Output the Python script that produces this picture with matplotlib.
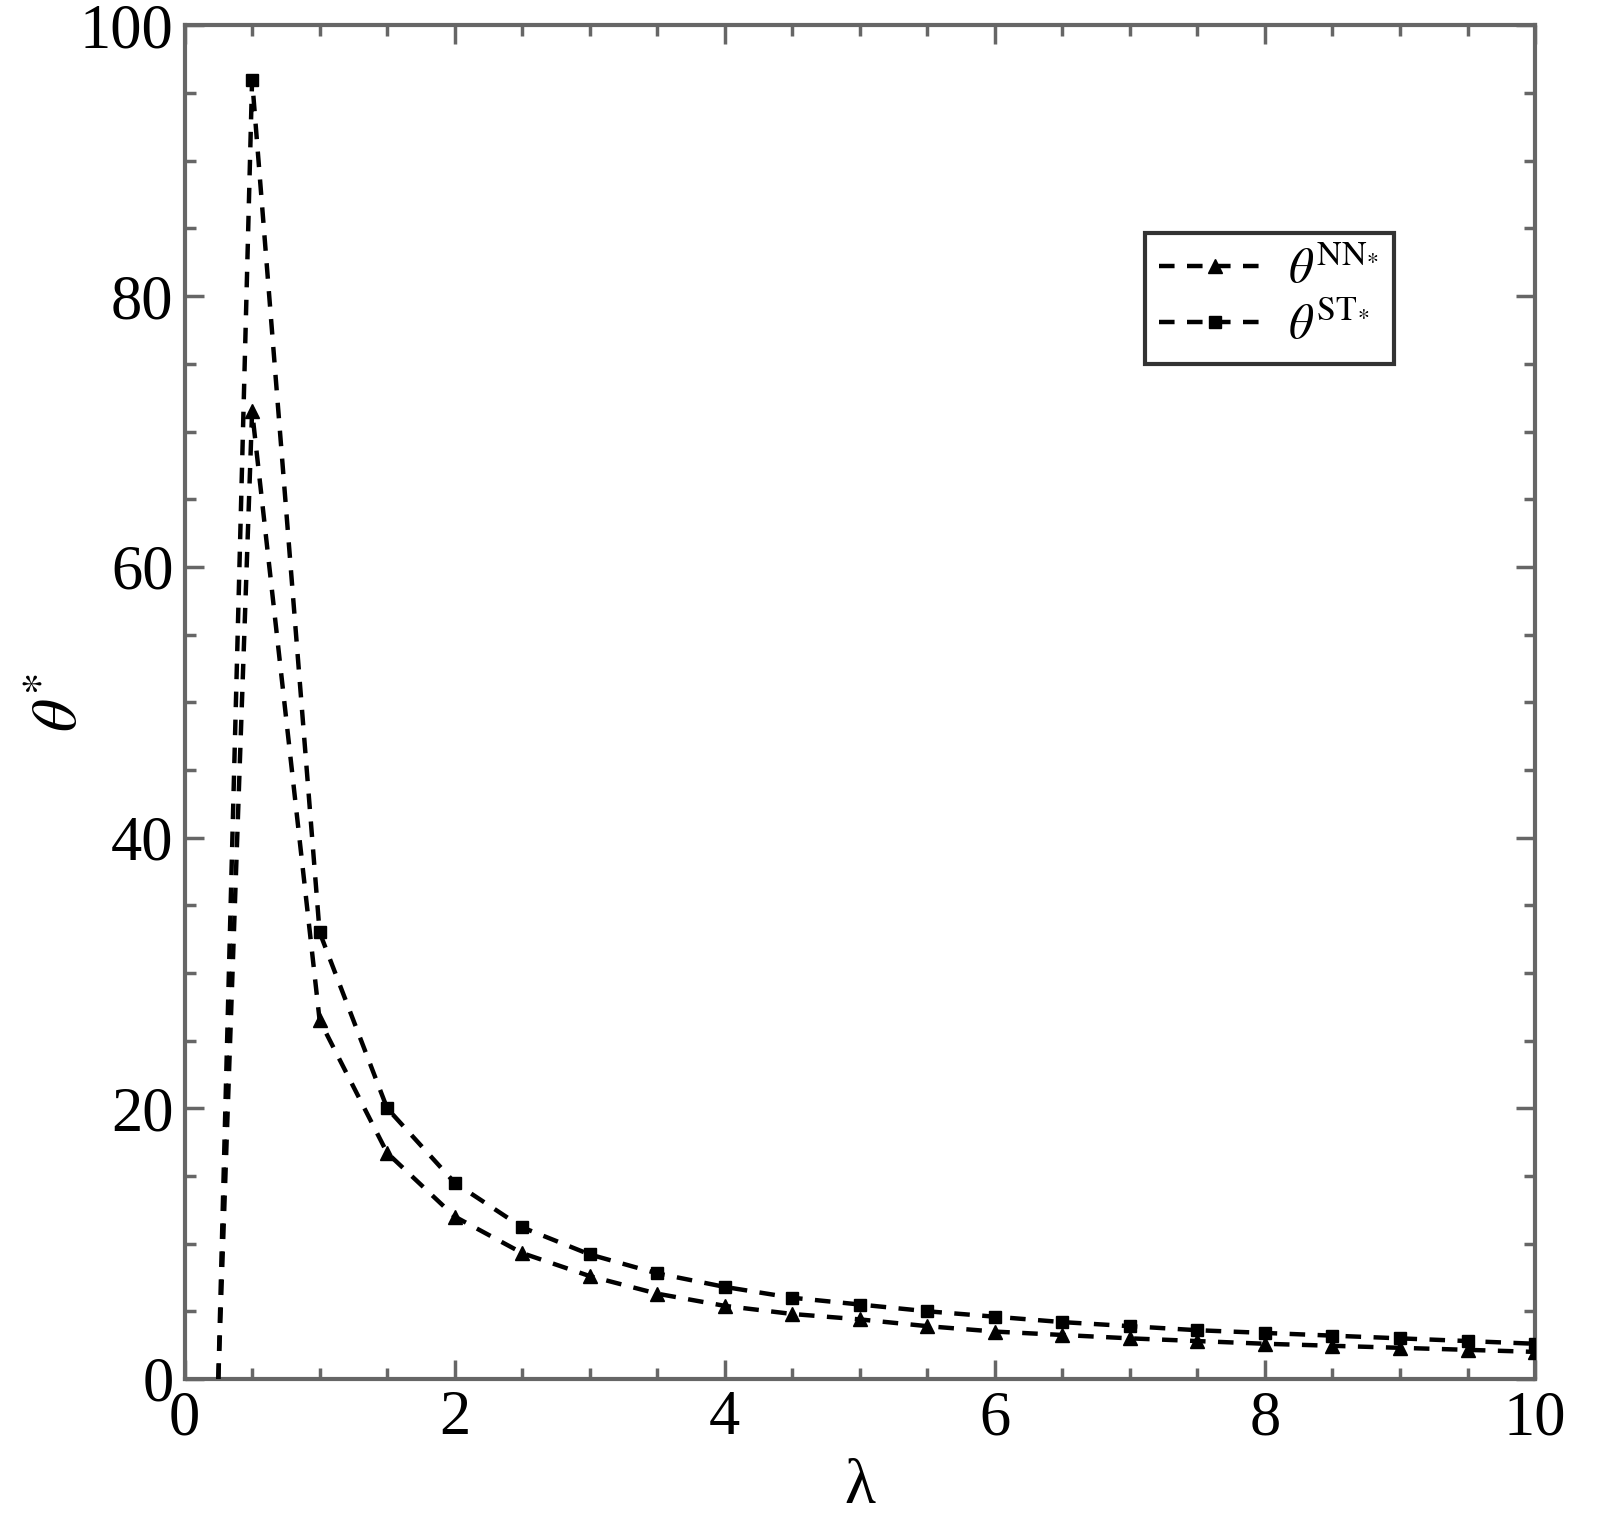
import matplotlib
matplotlib.use('Agg')
import matplotlib.pyplot as plt
from matplotlib.ticker import MultipleLocator
import numpy as np

plt.rcParams['font.family'] = 'Liberation Serif'
plt.rcParams['mathtext.fontset'] = 'stix'

###  DATA  ###

lam = [0.25, 0.5, 1.0, 1.5, 2.0, 2.5, 3.0, 3.5, 4.0, 4.5, 5.0,
       5.5, 6.0, 6.5, 7.0, 7.5, 8.0, 8.5, 9.0, 9.5, 10.0]
theta_nn = [0.0, 71.5, 26.5, 16.7, 12.0, 9.3, 7.6, 6.3, 5.4, 4.8, 4.4,
            3.9, 3.5, 3.25, 3.0, 2.8, 2.6, 2.45, 2.3, 2.15, 2.0]
theta_st = [0.0, 96.0, 33.0, 20.0, 14.5, 11.2, 9.2, 7.8, 6.8, 6.0, 5.5,
            5.0, 4.6, 4.2, 3.9, 3.6, 3.4, 3.2, 3.0, 2.8, 2.6]

xticks = [0, 2, 4, 6, 8, 10]
yticks = [0, 20, 40, 60, 80, 100]

###  PLOT  ###

fig = plt.figure(figsize=(15.98, 15.15), dpi=100)
ax = fig.add_axes([0.1155, 0.0898, 0.8451, 0.8934])

frame = '#666666'
ax.plot(lam, theta_nn, '--', color='black', lw=3.2, dashes=(3.5, 2.8),
        marker='^', markersize=10, markevery=slice(1, None),
        label=r'$\theta^{\mathrm{NN}_{*}}$', zorder=3)
ax.plot(lam, theta_st, '--', color='black', lw=3.2, dashes=(3.5, 2.8),
        marker='s', markersize=9, markevery=slice(1, None),
        label=r'$\theta^{\mathrm{ST}_{*}}$', zorder=3)

ax.set_xlim(0, 10)
ax.set_ylim(0, 100)
ax.set_xticks(xticks)
ax.set_yticks(yticks)
ax.xaxis.set_minor_locator(MultipleLocator(0.5))
ax.yaxis.set_minor_locator(MultipleLocator(5))
ax.tick_params(which='both', direction='in', top=True, right=True,
               color=frame, width=2.5, labelsize=45, pad=8)
ax.tick_params(which='major', length=14)
ax.tick_params(which='minor', length=8)
for s in ax.spines.values():
    s.set_color(frame)
    s.set_linewidth(3)

ax.set_xlabel('λ', fontsize=46, labelpad=8)
ax.set_ylabel(r'$\theta^{*}$', fontsize=46, labelpad=-8)

leg = ax.legend(loc='upper left', bbox_to_anchor=(0.711, 0.847), fontsize=35,
                fancybox=False, framealpha=1, edgecolor='#333333',
                handlelength=2.3, handletextpad=0.35, borderpad=0.3,
                labelspacing=0.2, borderaxespad=0)
leg.get_frame().set_linewidth(3)

fig.savefig('out.png', dpi=100)
